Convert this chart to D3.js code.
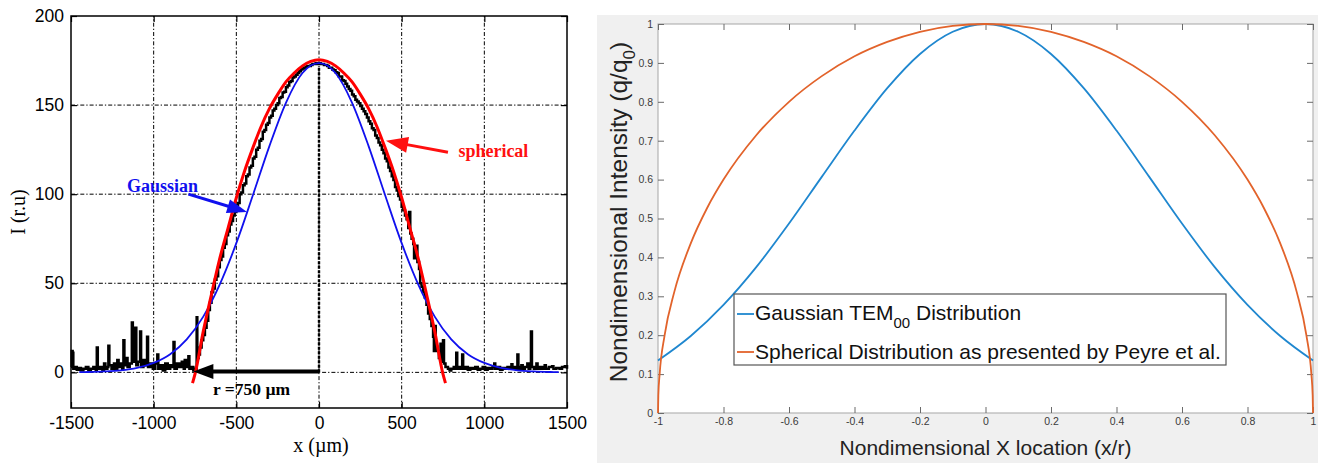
<!DOCTYPE html>
<html>
<head>
<meta charset="utf-8">
<script src="https://cdn.jsdelivr.net/npm/d3@7"></script>
<style>
  body { margin: 0; background: #fff; }
  svg { display: block; }
</style>
</head>
<body>
<div id="chart"></div>
<script>
// ---------- left panel: measured beam profile ----------
var xTicksL = [-1500, -1000, -500, 0, 500, 1000, 1500];
var yTicksL = [0, 50, 100, 150, 200];

// gaussian fit (blue)
var gaussX = [-1450, -1400, -1300, -1200, -1100, -1000, -900, -800, -700, -600, -500, -400, -300, -200, -100, 0,
              100, 200, 300, 400, 500, 600, 700, 800, 900, 1000, 1100, 1200, 1300, 1400, 1450];
var gaussY = [0.1, 0.2, 0.5, 1.1, 2.5, 5.3, 10.2, 18.5, 31.3, 49.4, 72.5, 99.4, 127.0, 151.3, 168.0, 173.5,
              168.0, 151.3, 127.0, 99.4, 72.5, 49.4, 31.3, 18.5, 10.2, 5.3, 2.5, 1.1, 0.5, 0.2, 0.1];

// spherical fit (red)
var sphX = [-765, -750, -700, -650, -600, -550, -500, -450, -400, -350, -300, -250, -200, -150, -100, -50, 0,
            50, 100, 150, 200, 250, 300, 350, 400, 450, 500, 550, 600, 650, 700, 750, 765];
var sphY = [-6, -1, 23, 44, 64, 81, 98, 113, 126, 138, 148, 156, 163, 168, 172, 174.5, 175.5,
            174.5, 172, 168, 163, 156, 148, 138, 126, 113, 98, 81, 64, 44, 23, -1, -6];

// measured intensity (black), [x (um), I]
var measured = [
  [-1500, 3], [-1496, 12], [-1490, 11], [-1486, 2], [-1475, 3], [-1465, 1.5], [-1450, 2.5], [-1440, 1],
  [-1425, 2], [-1410, 3], [-1395, 1.5], [-1380, 2], [-1365, 3], [-1350, 1.5], [-1344, 14], [-1338, 2],
  [-1325, 3], [-1310, 1], [-1300, 5], [-1292, 2], [-1280, 3], [-1274, 15], [-1268, 4], [-1255, 2],
  [-1240, 5], [-1230, 2], [-1220, 7], [-1212, 3], [-1200, 5], [-1190, 2], [-1183, 18], [-1177, 4],
  [-1165, 8], [-1158, 3], [-1145, 5], [-1132, 28], [-1126, 6], [-1118, 8], [-1111, 25], [-1105, 4],
  [-1095, 6], [-1082, 23], [-1076, 3], [-1062, 7], [-1048, 4], [-1040, 20], [-1034, 3], [-1020, 5],
  [-1005, 2], [-990, 5], [-978, 10], [-972, 2], [-960, 4], [-945, 1], [-930, 5], [-915, 2], [-900, 4],
  [-888, 3], [-880, 17], [-874, 2], [-860, 5], [-845, 3], [-830, 6], [-818, 2], [-812, 7], [-800, 3],
  [-790, 9], [-784, 2], [-770, 3], [-760, 1], [-745, 2], [-740, 31], [-736, 8], [-728, 10], [-720, 14],
  [-710, 18], [-700, 21], [-690, 25], [-680, 29], [-670, 35], [-660, 39], [-650, 45], [-640, 47],
  [-630, 52], [-620, 54], [-610, 59], [-600, 63], [-590, 65], [-580, 70], [-570, 72], [-560, 77],
  [-550, 79], [-540, 83], [-530, 85], [-520, 88], [-510, 90], [-500, 94], [-490, 95], [-480, 100],
  [-470, 101], [-460, 105], [-450, 106], [-440, 110], [-430, 111], [-420, 115], [-410, 116], [-400, 120],
  [-390, 121], [-380, 125], [-370, 126], [-360, 130], [-350, 131], [-340, 135], [-330, 136], [-320, 139],
  [-310, 140], [-300, 143], [-290, 144], [-280, 147], [-270, 148], [-260, 150], [-250, 151], [-240, 154],
  [-230, 154.5], [-220, 157], [-210, 157.5], [-200, 160], [-190, 161], [-180, 163], [-170, 163.5],
  [-160, 165.5], [-150, 166], [-140, 167], [-130, 168], [-120, 169], [-110, 170], [-100, 170.5],
  [-90, 171], [-80, 171.5], [-70, 172], [-60, 172], [-50, 172.5], [-40, 173], [-30, 173], [-20, 173.5],
  [-10, 173], [0, 173.5], [10, 173], [20, 173], [30, 172.5], [40, 172.5], [50, 172], [60, 171],
  [70, 171], [80, 170], [90, 169.5], [100, 168.5], [110, 168], [120, 166], [130, 166], [140, 164],
  [150, 163.5], [160, 162], [170, 160.5], [180, 159], [190, 158], [200, 156], [210, 155], [220, 153],
  [230, 152], [240, 151], [250, 149.5], [260, 148], [270, 146.5], [280, 145], [290, 143], [300, 141],
  [310, 139.5], [320, 137], [330, 136], [340, 133], [350, 131.5], [360, 129], [370, 127.5], [380, 125],
  [390, 123], [400, 120], [410, 118.5], [420, 115], [430, 113], [440, 110], [450, 108], [460, 104],
  [470, 102], [480, 99], [490, 97], [500, 93], [510, 91], [520, 88], [530, 86], [540, 81], [545, 90],
  [552, 78], [560, 75], [570, 72], [575, 64], [585, 71], [595, 62], [605, 58], [612, 50], [620, 48],
  [630, 45], [640, 42], [650, 38], [660, 33], [670, 30], [680, 26], [690, 20], [695, 12], [700, 26],
  [706, 14], [715, 12], [725, 8], [735, 16], [742, 6], [750, 18], [756, 5], [765, 3], [780, 2],
  [790, 1], [800, 2], [815, 3], [825, 2], [830, 11], [836, 2], [850, 3], [860, 2], [866, 10], [872, 2],
  [885, 3], [900, 1.5], [915, 2.5], [930, 2], [945, 3], [960, 1.5], [975, 2], [990, 3], [1005, 1.5],
  [1020, 2.5], [1035, 2], [1050, 3], [1060, 5], [1066, 2], [1080, 3], [1095, 1.5], [1110, 2.5],
  [1125, 2], [1140, 3], [1155, 2], [1164, 4.5], [1170, 2], [1185, 3], [1194, 2], [1200, 10], [1206, 3],
  [1215, 2], [1224, 4], [1232, 2], [1245, 3], [1260, 5], [1268, 2], [1278, 4], [1282, 23], [1288, 3],
  [1300, 2], [1315, 5], [1322, 2], [1335, 3], [1350, 2], [1365, 4], [1372, 2], [1390, 3], [1410, 3.5],
  [1418, 2], [1435, 2.5], [1455, 2], [1470, 3], [1487, 3.5], [1500, 2]
];

// ---------- right panel: nondimensional distributions ----------
var xTicksR = [-1, -0.8, -0.6, -0.4, -0.2, 0, 0.2, 0.4, 0.6, 0.8, 1];
var yTicksR = [0, 0.1, 0.2, 0.3, 0.4, 0.5, 0.6, 0.7, 0.8, 0.9, 1];

var temX = [-1, -0.9, -0.8, -0.7, -0.6, -0.5, -0.4, -0.3, -0.2, -0.1, 0, 0.1, 0.2, 0.3, 0.4, 0.5, 0.6, 0.7, 0.8, 0.9, 1];
var temY = [0.135, 0.198, 0.278, 0.375, 0.487, 0.607, 0.726, 0.835, 0.923, 0.980, 1,
            0.980, 0.923, 0.835, 0.726, 0.607, 0.487, 0.375, 0.278, 0.198, 0.135];

var peyreX = [-1, -0.999, -0.995, -0.98, -0.95, -0.9, -0.85, -0.8, -0.7, -0.6, -0.5, -0.4, -0.3, -0.2, -0.1, 0,
              0.1, 0.2, 0.3, 0.4, 0.5, 0.6, 0.7, 0.8, 0.85, 0.9, 0.95, 0.98, 0.995, 0.999, 1];
var peyreY = [0, 0.045, 0.1, 0.199, 0.312, 0.436, 0.527, 0.6, 0.714, 0.8, 0.866, 0.917, 0.954, 0.98, 0.995, 1,
              0.995, 0.98, 0.954, 0.917, 0.866, 0.8, 0.714, 0.6, 0.527, 0.436, 0.312, 0.199, 0.1, 0.045, 0];

var svg = d3.select("#chart").append("svg")
    .attr("width", 1321)
    .attr("height", 463);

function arrow(g, x1, y1, x2, y2, color, width, headLen, headW) {
  // line from (x1,y1) to tip (x2,y2) with a filled head
  var dx = x2 - x1, dy = y2 - y1;
  var len = Math.sqrt(dx * dx + dy * dy);
  var ux = dx / len, uy = dy / len;
  var bx = x2 - ux * headLen, by = y2 - uy * headLen;
  g.append("line")
      .attr("x1", x1).attr("y1", y1)
      .attr("x2", bx + ux * 2).attr("y2", by + uy * 2)
      .attr("stroke", color)
      .attr("stroke-width", width);
  g.append("polygon")
      .attr("points", [[x2, y2], [bx - uy * headW, by + ux * headW], [bx + uy * headW, by - ux * headW]]
            .map(function(p) { return p.join(","); }).join(" "))
      .attr("fill", color);
}

// plain tick text, ascii minus, no thousands comma
var plain = function(d) { return String(+d.toFixed(1)); };

// ================= left =================
var xL = d3.scaleLinear().domain([-1500, 1500]).range([71, 567]);
var yL = d3.scaleLinear().domain([-20, 200]).range([408, 16]);
var left = svg.append("g");

left.selectAll(".vgrid")
  .data(xTicksL.slice(1, -1))
  .enter().append("line")
    .attr("x1", function(d) { return xL(d); })
    .attr("x2", function(d) { return xL(d); })
    .attr("y1", yL.range()[0])
    .attr("y2", yL.range()[1])
    .attr("stroke", "#000")
    .attr("stroke-width", 1)
    .attr("stroke-dasharray", "4,2,1.3,2");

left.selectAll(".hgrid")
  .data(yTicksL.slice(0, -1))
  .enter().append("line")
    .attr("x1", xL.range()[0])
    .attr("x2", xL.range()[1])
    .attr("y1", function(d) { return yL(d); })
    .attr("y2", function(d) { return yL(d); })
    .attr("stroke", "#000")
    .attr("stroke-width", 1)
    .attr("stroke-dasharray", "4,2,1.3,2");

// thick dashed centre line
left.append("line")
    .attr("x1", xL(0)).attr("x2", xL(0))
    .attr("y1", yL(0)).attr("y2", yL(172))
    .attr("stroke", "#000")
    .attr("stroke-width", 2.4)
    .attr("stroke-dasharray", "3,1.5");

function styleAxis(g, font, size, color) {
  g.select(".domain").remove();
  g.selectAll("text")
      .style("font-family", font)
      .style("font-size", size)
      .attr("fill", color);
}

var axB = left.append("g")
    .attr("transform", "translate(0," + yL.range()[0] + ")")
    .call(d3.axisBottom(xL).tickValues(xTicksL).tickSizeInner(-6).tickSizeOuter(0).tickPadding(9).tickFormat(plain));
styleAxis(axB, "Liberation Sans, Arial, sans-serif", "17.5px", "#000");
axB.selectAll("line").attr("stroke", "#000").attr("stroke-width", 1.2);

var axLft = left.append("g")
    .attr("transform", "translate(" + xL.range()[0] + ",0)")
    .call(d3.axisLeft(yL).tickValues(yTicksL).tickSizeInner(-6).tickSizeOuter(0).tickPadding(7).tickFormat(plain));
styleAxis(axLft, "Liberation Sans, Arial, sans-serif", "17.5px", "#000");
axLft.selectAll("line").attr("stroke", "#000").attr("stroke-width", 1.2);

var axT = left.append("g")
    .attr("transform", "translate(0," + yL.range()[1] + ")")
    .call(d3.axisTop(xL).tickValues(xTicksL).tickSizeInner(-6).tickSizeOuter(0).tickFormat(""));
axT.select(".domain").remove();
axT.selectAll("line").attr("stroke", "#000").attr("stroke-width", 1.2);

var axR = left.append("g")
    .attr("transform", "translate(" + xL.range()[1] + ",0)")
    .call(d3.axisRight(yL).tickValues(yTicksL).tickSizeInner(-6).tickSizeOuter(0).tickFormat(""));
axR.select(".domain").remove();
axR.selectAll("line").attr("stroke", "#000").attr("stroke-width", 1.2);

// curves
var measLine = d3.line()
    .x(function(d) { return xL(d[0]); })
    .y(function(d) { return yL(d[1]); })
    .curve(d3.curveStepAfter);
left.append("path")
    .datum(measured)
    .attr("d", measLine)
    .attr("fill", "none")
    .attr("stroke", "#000")
    .attr("stroke-width", 2.5);

var fitLine = d3.line()
    .x(function(d) { return xL(d[0]); })
    .y(function(d) { return yL(d[1]); })
    .curve(d3.curveMonotoneX);

left.append("path")
    .datum(d3.zip(gaussX, gaussY))
    .attr("d", fitLine)
    .attr("fill", "none")
    .attr("stroke", "#1010ee")
    .attr("stroke-width", 1.8);

left.append("path")
    .datum(d3.zip(sphX, sphY))
    .attr("d", fitLine)
    .attr("fill", "none")
    .attr("stroke", "#ff0000")
    .attr("stroke-width", 3);

// frame
left.append("rect")
    .attr("x", xL.range()[0]).attr("y", yL.range()[1])
    .attr("width", xL.range()[1] - xL.range()[0])
    .attr("height", yL.range()[0] - yL.range()[1])
    .attr("fill", "none")
    .attr("stroke", "#000")
    .attr("stroke-width", 1.5);

// radius arrow
arrow(left, xL(0), yL(0.5), xL(-760), yL(0.5), "#000", 4, 20, 7.5);
left.append("text")
    .attr("x", 213).attr("y", 395)
    .style("font-family", "Liberation Serif, Times New Roman, serif")
    .style("font-weight", "bold")
    .style("font-size", "17.5px")
    .text("r =750 µm");

// gaussian label
left.append("text")
    .attr("x", xL(-732)).attr("y", 192)
    .attr("text-anchor", "end")
    .attr("fill", "#1010ee")
    .style("font-family", "Liberation Serif, Times New Roman, serif")
    .style("font-weight", "bold")
    .style("font-size", "18px")
    .text("Gaussian");
arrow(left, xL(-790), yL(100), xL(-435), yL(90), "#1010ee", 3, 20, 7);

// spherical label
left.append("text")
    .attr("x", xL(843)).attr("y", 157)
    .attr("fill", "#ff1010")
    .style("font-family", "Liberation Serif, Times New Roman, serif")
    .style("font-weight", "bold")
    .style("font-size", "18px")
    .text("spherical");
arrow(left, xL(780), yL(123.5), xL(405), yL(130), "#ff1010", 3, 22, 8);

// axis titles
left.append("text")
    .attr("x", xL(0) + 2).attr("y", 452)
    .attr("text-anchor", "middle")
    .style("font-family", "Liberation Serif, Times New Roman, serif")
    .style("font-size", "20px")
    .text("x (µm)");
left.append("text")
    .attr("transform", "translate(25,212) rotate(-90)")
    .attr("text-anchor", "middle")
    .style("font-family", "Liberation Serif, Times New Roman, serif")
    .style("font-size", "20px")
    .text("I (r.u)");

// ================= right =================
var xR = d3.scaleLinear().domain([-1, 1]).range([658, 1313]);
var yR = d3.scaleLinear().domain([0, 1]).range([413, 24]);
var right = svg.append("g");

right.append("rect")
    .attr("x", 597).attr("y", 15)
    .attr("width", 721).attr("height", 448)
    .attr("fill", "#f0f0f0");
right.append("rect")
    .attr("x", xR.range()[0]).attr("y", yR.range()[1])
    .attr("width", xR.range()[1] - xR.range()[0])
    .attr("height", yR.range()[0] - yR.range()[1])
    .attr("fill", "#fff")
    .attr("stroke", "#b4b4b4")
    .attr("stroke-width", 1.2);

var rb = right.append("g")
    .attr("transform", "translate(0," + yR.range()[0] + ")")
    .call(d3.axisBottom(xR).tickValues(xTicksR).tickSizeInner(-6).tickSizeOuter(0).tickPadding(5).tickFormat(plain));
styleAxis(rb, "Liberation Sans, Arial, sans-serif", "10.5px", "#3a3a3a");
rb.selectAll("line").attr("stroke", "#6a6a6a");

var rl = right.append("g")
    .attr("transform", "translate(" + xR.range()[0] + ",0)")
    .call(d3.axisLeft(yR).tickValues(yTicksR).tickSizeInner(-6).tickSizeOuter(0).tickPadding(5).tickFormat(plain));
styleAxis(rl, "Liberation Sans, Arial, sans-serif", "10.5px", "#3a3a3a");
rl.selectAll("line").attr("stroke", "#6a6a6a");

var rt = right.append("g")
    .attr("transform", "translate(0," + yR.range()[1] + ")")
    .call(d3.axisTop(xR).tickValues(xTicksR).tickSizeInner(-6).tickSizeOuter(0).tickFormat(""));
rt.select(".domain").remove();
rt.selectAll("line").attr("stroke", "#6a6a6a");

var rr = right.append("g")
    .attr("transform", "translate(" + xR.range()[1] + ",0)")
    .call(d3.axisRight(yR).tickValues(yTicksR).tickSizeInner(-6).tickSizeOuter(0).tickFormat(""));
rr.select(".domain").remove();
rr.selectAll("line").attr("stroke", "#6a6a6a");

var lineR = d3.line()
    .x(function(d) { return xR(d[0]); })
    .y(function(d) { return yR(d[1]); })
    .curve(d3.curveMonotoneX);

var colTem = "#1f87cf", colPeyre = "#e2632b";

right.append("path")
    .datum(d3.zip(temX, temY))
    .attr("d", lineR)
    .attr("fill", "none")
    .attr("stroke", colTem)
    .attr("stroke-width", 1.8);

right.append("path")
    .datum(d3.zip(peyreX, peyreY))
    .attr("d", lineR)
    .attr("fill", "none")
    .attr("stroke", colPeyre)
    .attr("stroke-width", 1.8);

// legend
var lg = right.append("g");
lg.append("rect")
    .attr("x", 734).attr("y", 294)
    .attr("width", 492).attr("height", 71)
    .attr("fill", "#fff")
    .attr("stroke", "#555")
    .attr("stroke-width", 1.2);
lg.append("line")
    .attr("x1", 737).attr("x2", 754).attr("y1", 314).attr("y2", 314)
    .attr("stroke", colTem).attr("stroke-width", 1.8);
lg.append("line")
    .attr("x1", 737).attr("x2", 754).attr("y1", 352).attr("y2", 352)
    .attr("stroke", colPeyre).attr("stroke-width", 1.8);

var t1 = lg.append("text")
    .attr("x", 755).attr("y", 320)
    .style("font-family", "Liberation Sans, Arial, sans-serif")
    .style("font-size", "21px")
    .attr("fill", "#111");
t1.append("tspan").text("Gaussian TEM");
t1.append("tspan").attr("dy", 8).style("font-size", "15px").text("00");
t1.append("tspan").attr("dy", -8).text(" Distribution");

lg.append("text")
    .attr("x", 755).attr("y", 359)
    .style("font-family", "Liberation Sans, Arial, sans-serif")
    .style("font-size", "21px")
    .attr("fill", "#111")
    .text("Spherical Distribution as presented by Peyre et al.");

// axis titles
right.append("text")
    .attr("x", xR(0)).attr("y", 455)
    .attr("text-anchor", "middle")
    .style("font-family", "Liberation Sans, Arial, sans-serif")
    .style("font-size", "21px")
    .attr("fill", "#222")
    .text("Nondimensional X location (x/r)");

var yt = right.append("text")
    .attr("transform", "translate(627,212) rotate(-90)")
    .attr("text-anchor", "middle")
    .style("font-family", "Liberation Sans, Arial, sans-serif")
    .style("font-size", "24.5px")
    .attr("fill", "#222");
yt.append("tspan").text("Nondimensional Intensity (q/q");
yt.append("tspan").attr("dy", 8).style("font-size", "17px").text("0");
yt.append("tspan").attr("dy", -8).text(")");
</script>
</body>
</html>
